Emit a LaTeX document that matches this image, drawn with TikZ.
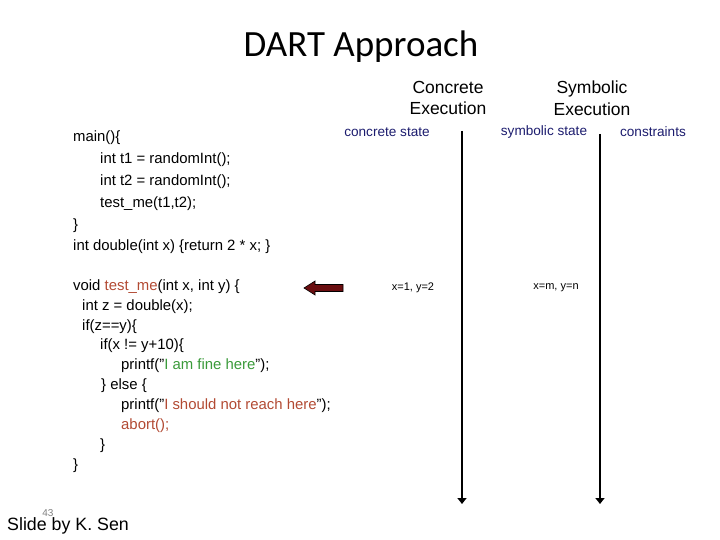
\documentclass[tikz,border=0pt]{standalone}
\usepackage{fontspec}
\setmainfont{Liberation Sans}
\newfontfamily\titlefont{Carlito}
\usetikzlibrary{arrows.meta}
\definecolor{navyc}{HTML}{1C1C6E}
\definecolor{brownc}{HTML}{B24A33}
\definecolor{greenc}{HTML}{3A9A3A}
\definecolor{arrowred}{HTML}{6A0E10}
\newcommand{\dq}{\symbol{34}}
\begin{document}
\begin{tikzpicture}[x=1pt,y=-1pt,
  code/.style={anchor=west,inner sep=0pt,font=\fontsize{14.9}{16}\selectfont},
  head/.style={inner sep=0pt,align=center,font=\fontsize{17.5}{21.5}\selectfont},
  sub/.style={inner sep=0pt,text=navyc,font=\fontsize{13.6}{15}\selectfont},
  val/.style={inner sep=0pt,font=\fontsize{11}{13}\selectfont},
  timeline/.style={line width=2pt,-{Triangle[width=9pt,length=6pt]}}]
\useasboundingbox (0,0) rectangle (720,540);
\node[inner sep=0pt,font=\titlefont\fontsize{37}{42}\selectfont] (title) at (361,47) {DART Approach};
\node[head] (ce) at (448,98) {Concrete\\Execution};
\node[head] (se) at (592,98) {Symbolic\\Execution};
\node[sub] (cs) at (387,132) {concrete state};
\node[sub] (ss) at (544,132) {symbolic state};
\node[sub] (cn) at (653,132) {constraints};
% code
\node[code] (l1) at (73,138) {main()\{};
\node[code] (l2) at (100,160) {int t1 = randomInt();};
\node[code] (l3) at (100,182) {int t2 = randomInt();};
\node[code] (l4) at (100,204) {test\_me(t1,t2);};
\node[code] (l5) at (73,226) {\}};
\node[code] (l6) at (73,247) {int double(int x) \{return 2 * x; \}};
\node[code] (m1) at (73,287) {void \textcolor{brownc}{test\_me}(int x, int y) \{};
\node[code] (m2) at (82,307) {int z = double(x);};
\node[code] (m3) at (82,327) {if(z==y)\{};
\node[code] (m4) at (100,346) {if(x != y+10)\{};
\node[code] (m5) at (121,366) {printf(\dq\textcolor{greenc}{I am fine here}\dq);};
\node[code] (m6) at (101,386) {\} else \{};
\node[code] (m7) at (121,406) {printf(\dq\textcolor{brownc}{I should not reach here}\dq);};
\node[code] (m8) at (121,426) {\textcolor{brownc}{abort();}};
\node[code] (m9) at (100,446) {\}};
\node[code] (m10) at (73,466) {\}};
% values
\node[val] (v1) at (413,288) {x=1, y=2};
\node[val] (v2) at (556,288) {x=m, y=n};
% block arrow
\filldraw[fill=arrowred,draw=black,line width=0.6pt]
  (304,288) -- (315,281) -- (315,284.5) -- (343,284.5) -- (343,291.5) -- (315,291.5) -- (315,295) -- cycle;
% timelines
\coordinate (t1s) at (462,131);
\coordinate (t1e) at (462,504);
\coordinate (t2s) at (600,134);
\coordinate (t2e) at (600,504);
\draw[timeline] (t1s) -- (t1e);
\draw[timeline] (t2s) -- (t2e);
% footer
\node[inner sep=0pt,text=gray,font=\fontsize{10}{12}\selectfont] (num) at (48,513) {43};
\node[inner sep=0pt,anchor=west,font=\fontsize{17.8}{20}\selectfont] (credit) at (7,526) {Slide by K. Sen};
\end{tikzpicture}
\end{document}
